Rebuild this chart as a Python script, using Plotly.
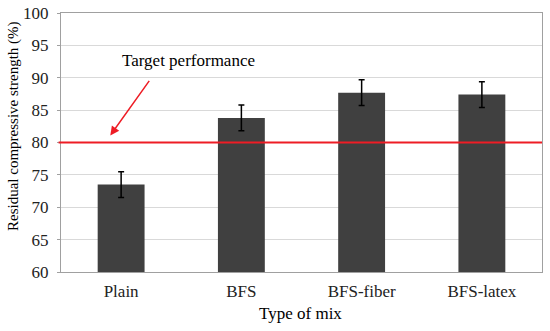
import plotly.graph_objects as go

categories = ["Plain", "BFS", "BFS-fiber", "BFS-latex"]
values = [73.5, 83.8, 87.7, 87.4]
errors = [2.0, 2.0, 2.0, 2.0]
target = 80
y_ticks = [60, 65, 70, 75, 80, 85, 90, 95, 100]

font = "Liberation Serif, Times New Roman, serif"

L, R, T, B = 61, 8, 13, 59
W, H = 550, 331
pw, ph = W - L - R, H - T - B

fig = go.Figure()
fig.add_trace(go.Bar(
    x=categories, y=values,
    marker=dict(color="#404040", line=dict(width=0)),
    width=0.39,
    error_y=dict(type="data", array=errors, color="black", thickness=1.5, width=3),
))

fig.add_shape(type="line", xref="paper", yref="y", x0=-0.005, x1=1, y0=target, y1=target,
              line=dict(color="#ee1c25", width=2), layer="above")

fig.add_annotation(x=-0.09, y=81.1, xref="x", yref="y", ax=40, ay=-56, axref="pixel", ayref="pixel",
                   text="", showarrow=True, arrowhead=2, arrowsize=1.2, arrowwidth=1.5, arrowcolor="#ee1c25")
fig.add_annotation(x=0.56, y=92.7, xref="x", yref="y", text="Target performance", showarrow=False,
                   font=dict(family=font, size=17, color="black"), bgcolor="white", borderpad=3)

# axis titles
fig.add_annotation(xref="paper", yref="paper", x=-(L - 13) / pw, y=(272 - 126) / ph,
                   text="Residual compressive strength (%)", textangle=-90, showarrow=False,
                   xanchor="center", yanchor="middle", font=dict(family=font, size=15, color="black"))
fig.add_annotation(xref="paper", yref="paper", x=(300 - L) / pw, y=-(313 - 272) / ph,
                   text="Type of mix", showarrow=False,
                   xanchor="center", yanchor="middle", font=dict(family=font, size=17, color="black"))

fig.update_layout(
    width=W, height=H,
    margin=dict(l=L, r=R, t=T, b=B),
    paper_bgcolor="white", plot_bgcolor="white",
    showlegend=False,
    font=dict(family=font, size=17, color="black"),
)
fig.update_xaxes(
    automargin=False,
    showline=True, linecolor="#a0a0a0", linewidth=1, mirror=True,
    tickfont=dict(family=font, size=17, color="#222"), ticks="", ticklabelstandoff=4,
)
fig.update_yaxes(
    automargin=False,
    range=[60, 100], tickvals=y_ticks,
    showline=True, linecolor="#a0a0a0", linewidth=1, mirror=True,
    showgrid=True, gridcolor="#d9d9d9", gridwidth=1,
    ticks="outside", ticklen=3, tickcolor="#a0a0a0", ticklabelstandoff=5,
    tickfont=dict(family=font, size=17, color="#222"), zeroline=False,
)

fig.write_html("out.html", config={"displayModeBar": False},
               post_script="document.body.style.margin='0';document.body.style.overflow='hidden';")
